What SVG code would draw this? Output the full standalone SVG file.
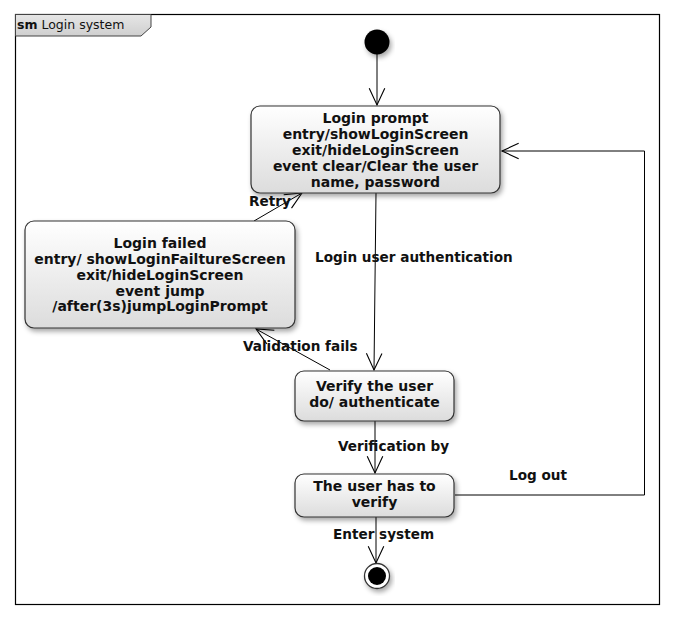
<svg xmlns="http://www.w3.org/2000/svg" width="675" height="621" viewBox="0 0 675 621">
<style>
.st{stroke:#333;stroke-width:1.2;fill:url(#g)}
.t{font-family:"DejaVu Sans",Verdana,sans-serif;font-size:14px;font-weight:bold;fill:#111;text-anchor:middle}
.lb{font-family:"DejaVu Sans",Verdana,sans-serif;font-size:13.6px;font-weight:bold;fill:#111}
.c{stroke:#000;stroke-width:1;fill:none}
</style>
<defs>
<linearGradient id="g" x1="0" y1="0" x2="0" y2="1">
<stop offset="0" stop-color="#ffffff"/>
<stop offset="1" stop-color="#dcdcdc"/>
</linearGradient>
<linearGradient id="tg" x1="0" y1="0" x2="0" y2="1">
<stop offset="0" stop-color="#e6e6e6"/>
<stop offset="1" stop-color="#cfcfcf"/>
</linearGradient>
<filter id="sh" x="-20%" y="-20%" width="140%" height="150%">
<feDropShadow dx="2" dy="3" stdDeviation="2.5" flood-color="#000" flood-opacity="0.35"/>
</filter>
<marker id="a" markerUnits="userSpaceOnUse" markerWidth="20" markerHeight="20" viewBox="-16 -9 18 18" refX="0" refY="0" orient="auto">
<path d="M-15,-7 L0,0 L-15,7" fill="none" stroke="#000" stroke-width="1"/>
</marker>
</defs>
<rect x="0" y="0" width="675" height="621" fill="#fff"/>
<g id="frame">
<rect x="15.5" y="14.5" width="644" height="590" fill="none" stroke="#000" stroke-width="1.2"/>
<path d="M15.5,14.5 H151 V27 L141,36 H15.5 Z" fill="url(#tg)" stroke="#444" stroke-width="1"/>
<text x="17" y="29" font-family="DejaVu Sans,Verdana,sans-serif" font-size="12.5" fill="#111"><tspan font-weight="bold">sm</tspan> Login system</text>
</g>
<g id="connectors">
<path class="c" d="M377,54 V105" marker-end="url(#a)"/>
<path class="c" d="M376,193 L374,370" marker-end="url(#a)"/>
<path class="c" d="M375,421 V473" marker-end="url(#a)"/>
<path class="c" d="M376,517 V563" marker-end="url(#a)"/>
<path class="c" d="M330,370 L256,329" marker-end="url(#a)"/>
<path class="c" d="M254,221 L302,193" marker-end="url(#a)"/>
<path class="c" d="M455,495 H644.5 V151 H502" marker-end="url(#a)"/>
<text class="lb" x="315" y="262">Login user authentication</text>
<text class="lb" x="338" y="451">Verification by</text>
<text class="lb" x="509" y="480">Log out</text>
<text class="lb" x="333" y="539">Enter system</text>
<text class="lb" x="243" y="351">Validation fails</text>
<text class="lb" x="249" y="206">Retry</text>
</g>
<g id="initial">
<circle cx="377" cy="42" r="12.5" fill="#000" filter="url(#sh)"/>
</g>
<g id="login-prompt">
<rect class="st" x="251" y="106" width="249" height="87" rx="9" filter="url(#sh)"/>
<text class="t" x="375.5" y="123">Login prompt</text>
<text class="t" x="375.5" y="139">entry/showLoginScreen</text>
<text class="t" x="375.5" y="155">exit/hideLoginScreen</text>
<text class="t" x="375.5" y="171">event clear/Clear the user</text>
<text class="t" x="375.5" y="187">name, password</text>
</g>
<g id="login-failed">
<rect class="st" x="25" y="221" width="270" height="107" rx="9" filter="url(#sh)"/>
<text class="t" x="160" y="248">Login failed</text>
<text class="t" x="160" y="264">entry/ showLoginFailtureScreen</text>
<text class="t" x="160" y="280">exit/hideLoginScreen</text>
<text class="t" x="160" y="296">event jump</text>
<text class="t" x="160" y="311">/after(3s)jumpLoginPrompt</text>
</g>
<g id="verify-user">
<rect class="st" x="295" y="371" width="159" height="50" rx="9" filter="url(#sh)"/>
<text class="t" x="374.5" y="391">Verify the user</text>
<text class="t" x="374.5" y="407">do/ authenticate</text>
</g>
<g id="user-has-to-verify">
<rect class="st" x="295" y="474" width="159" height="43" rx="9" filter="url(#sh)"/>
<text class="t" x="374.5" y="491">The user has to</text>
<text class="t" x="374.5" y="507">verify</text>
</g>
<g id="final">
<circle cx="377" cy="576" r="12.5" fill="#fff" stroke="#333" stroke-width="1.3" filter="url(#sh)"/>
<circle cx="377" cy="576" r="9" fill="#000"/>
</g>
</svg>
